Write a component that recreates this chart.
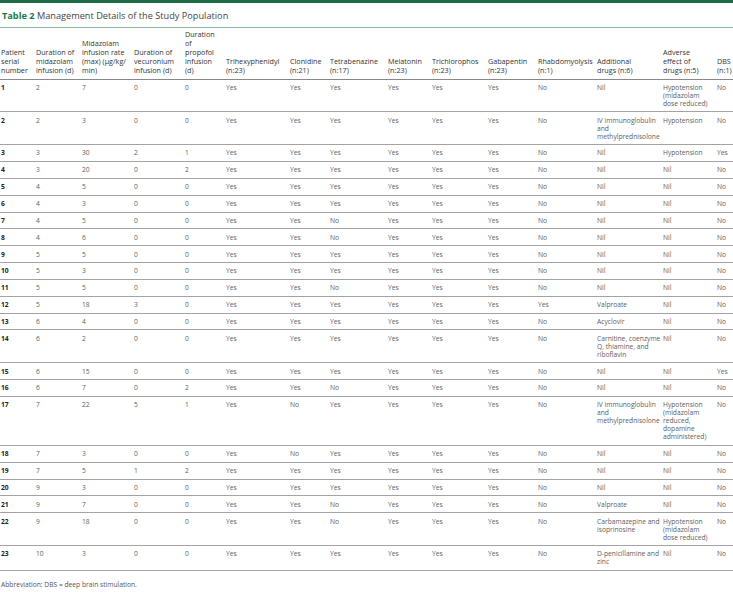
import React from 'react';

// Column headings, one entry per printed line
const headers: string[][] = [
  ['Patient', 'serial', 'number'],
  ['Duration of', 'midazolam', 'infusion (d)'],
  ['Midazolam', 'infusion rate', '(max) (µg/kg/', 'min)'],
  ['Duration of', 'vecuronium', 'infusion (d)'],
  ['Duration', 'of', 'propofol', 'infusion', '(d)'],
  ['Trihexyphenidyl', '(n:23)'],
  ['Clonidine', '(n:21)'],
  ['Tetrabenazine', '(n:17)'],
  ['Melatonin', '(n:23)'],
  ['Trichlorophos', '(n:23)'],
  ['Gabapentin', '(n:23)'],
  ['Rhabdomyolysis', '(n:1)'],
  ['Additional', 'drugs (n:6)'],
  ['Adverse', 'effect of', 'drugs (n:5)'],
  ['DBS', '(n:1)'],
];

const patientIds = [1, 2, 3, 4, 5, 6, 7, 8, 9, 10, 11, 12, 13, 14, 15, 16, 17, 18, 19, 20, 21, 22, 23];
const midazolamDays = [2, 2, 3, 3, 4, 4, 4, 4, 5, 5, 5, 5, 6, 6, 6, 6, 7, 7, 7, 9, 9, 9, 10];
const midazolamRate = [7, 3, 30, 20, 5, 3, 5, 6, 5, 3, 5, 18, 4, 2, 15, 7, 22, 3, 5, 3, 7, 18, 3];
const vecuroniumDays = [0, 0, 2, 0, 0, 0, 0, 0, 0, 0, 0, 3, 0, 0, 0, 0, 5, 0, 1, 0, 0, 0, 0];
const propofolDays = [0, 0, 1, 2, 0, 0, 0, 0, 0, 0, 0, 0, 0, 0, 0, 2, 1, 0, 2, 0, 0, 0, 0];

const Y = 'Yes';
const N = 'No';
const trihexyphenidyl = [Y, Y, Y, Y, Y, Y, Y, Y, Y, Y, Y, Y, Y, Y, Y, Y, Y, Y, Y, Y, Y, Y, Y];
const clonidine = [Y, Y, Y, Y, Y, Y, Y, Y, Y, Y, Y, Y, Y, Y, Y, Y, N, N, Y, Y, Y, Y, Y];
const tetrabenazine = [Y, Y, Y, Y, Y, Y, N, N, Y, Y, N, Y, Y, Y, Y, N, Y, Y, Y, Y, N, N, Y];
const melatonin = [Y, Y, Y, Y, Y, Y, Y, Y, Y, Y, Y, Y, Y, Y, Y, Y, Y, Y, Y, Y, Y, Y, Y];
const trichlorophos = [Y, Y, Y, Y, Y, Y, Y, Y, Y, Y, Y, Y, Y, Y, Y, Y, Y, Y, Y, Y, Y, Y, Y];
const gabapentin = [Y, Y, Y, Y, Y, Y, Y, Y, Y, Y, Y, Y, Y, Y, Y, Y, Y, Y, Y, Y, Y, Y, Y];
const rhabdomyolysis = [N, N, N, N, N, N, N, N, N, N, N, Y, N, N, N, N, N, N, N, N, N, N, N];

const IVIG = 'IV immunoglobulin\nand\nmethylprednisolone';
const additionalDrugs = [
  'Nil', IVIG, 'Nil', 'Nil', 'Nil', 'Nil', 'Nil', 'Nil', 'Nil', 'Nil', 'Nil', 'Valproate', 'Acyclovir',
  'Carnitine, coenzyme\nQ, thiamine, and\nriboflavin', 'Nil', 'Nil', IVIG, 'Nil', 'Nil', 'Nil', 'Valproate',
  'Carbamazepine and\nisoprinosine', 'D-penicillamine and\nzinc',
];
const adverseEffects = [
  'Hypotension\n(midazolam\ndose reduced)', 'Hypotension', 'Hypotension', 'Nil', 'Nil', 'Nil', 'Nil', 'Nil',
  'Nil', 'Nil', 'Nil', 'Nil', 'Nil', 'Nil', 'Nil', 'Nil',
  'Hypotension\n(midazolam\nreduced,\ndopamine\nadministered)', 'Nil', 'Nil', 'Nil', 'Nil',
  'Hypotension\n(midazolam\ndose reduced)', 'Nil',
];
const dbs = [N, N, Y, N, N, N, N, N, N, N, N, N, N, N, Y, N, N, N, N, N, N, N, N];

const colWidths = [35, 46, 52, 51, 41, 64, 40, 58, 44, 56, 50, 59, 66, 54, 17];

const FONT = '"Open Sans", "Noto Sans", sans-serif';

const App: React.FC = () => {
  const rows = patientIds.map((id, i) => [
    String(id), String(midazolamDays[i]), String(midazolamRate[i]), String(vecuroniumDays[i]),
    String(propofolDays[i]), trihexyphenidyl[i], clonidine[i], tetrabenazine[i], melatonin[i],
    trichlorophos[i], gabapentin[i], rhabdomyolysis[i], additionalDrugs[i], adverseEffects[i], dbs[i],
  ]);

  return (
    <div style={{ position: 'absolute', left: 0, top: 0, width: 733, height: 592, background: '#fff', overflow: 'hidden', fontFamily: FONT }}>
      <div style={{ position: 'absolute', left: 0, top: 0, width: 733, height: 3, background: '#1d6b45' }} />
      <div style={{ position: 'absolute', left: 2, top: 9, fontSize: 9.2, lineHeight: '13px', color: '#444', whiteSpace: 'nowrap' }}>
        <span style={{ color: '#22784c', fontWeight: 700 }}>Table 2</span>
        <span> Management Details of the Study Population</span>
      </div>
      <div style={{ position: 'absolute', left: 0, top: 27, width: 733, height: 1, background: '#8db9a0' }} />

      <table style={{ position: 'absolute', left: 0, top: 28, width: 733, borderCollapse: 'collapse', tableLayout: 'fixed' }}>
        <colgroup>
          {colWidths.map((w, i) => <col key={i} style={{ width: w }} />)}
        </colgroup>
        <thead>
          <tr style={{ height: 51 }}>
            {headers.map((lines, i) => (
              <th key={i} style={{
                textAlign: 'left', verticalAlign: 'bottom', fontWeight: 400, fontSize: 7.2, lineHeight: '9px',
                color: '#333', padding: '1px 0 4px 1px', borderBottom: '1px solid #888', whiteSpace: 'pre',
              }}>
                {lines.join('\n')}
              </th>
            ))}
          </tr>
        </thead>
        <tbody>
          {rows.map((cells, r) => (
            <tr key={r}>
              {cells.map((c, j) => (
                <td key={j} style={{
                  verticalAlign: 'top', fontSize: 6.7, lineHeight: '8px', color: j === 0 ? '#222' : '#5e5e5e',
                  fontWeight: j === 0 ? 700 : 400, padding: '4.3px 0 3.55px 1px', borderBottom: '1px solid #a3a3a3',
                  whiteSpace: 'pre',
                }}>
                  {c}
                </td>
              ))}
            </tr>
          ))}
          <tr>
            <td colSpan={15} style={{
              fontSize: 6.7, lineHeight: '8px', color: '#555', padding: '10px 0 4px 1px',
              borderBottom: '1px solid #666', whiteSpace: 'pre',
            }}>
              Abbreviation: DBS = deep brain stimulation.
            </td>
          </tr>
        </tbody>
      </table>
    </div>
  );
};

export default App;
